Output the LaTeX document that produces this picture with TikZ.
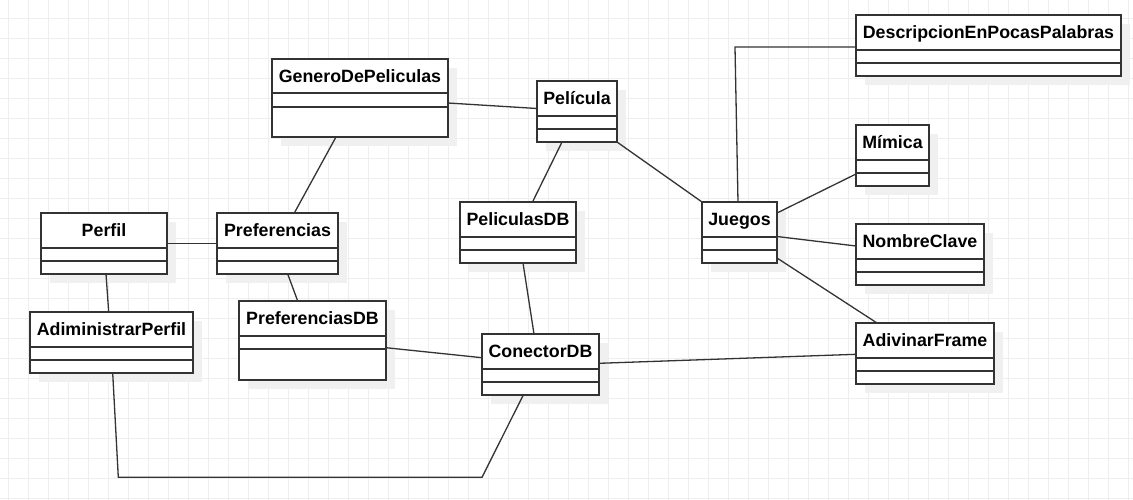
\documentclass[tikz,border=0pt]{standalone}
\usepackage{fontspec}
\setmainfont{Liberation Sans}
\usetikzlibrary{calc,shadows}
\definecolor{edge}{HTML}{333333}
\definecolor{gridgray}{HTML}{EEEEEE}
\tikzset{
  cls/.style={draw=edge, line width=1.3pt, fill=white, anchor=north west, inner sep=0pt, outer sep=0pt,
    drop shadow={shadow xshift=9pt, shadow yshift=-9pt, fill=black!6, opacity=1}},
  ttl/.style={anchor=base, inner sep=0pt, font=\bfseries\fontsize{17.8}{20}\selectfont},
  sep/.style={draw=edge, line width=1.3pt},
  assoc/.style={draw=edge, line width=1.3pt},
  gridln/.style={draw=gridgray, line width=1pt}
}
\begin{document}
\begin{tikzpicture}[x=1pt,y=-1pt]
\useasboundingbox (0,0) rectangle (1133,499);
\begin{scope}
\clip (0,0) rectangle (1133,499);
\draw[gridln, step=20pt, xshift=8.3pt, yshift=-18.3pt] (-20pt,-500pt) grid (1140pt,20pt);
\end{scope}
% classes
\node[cls, minimum width=176pt, minimum height=78pt] (genero) at (272,59) {};
\node[ttl] (genero-t) at ($(genero.north)+(0,23)$) {GeneroDePeliculas};
\draw[sep] ($(genero.north west)+(0,34)$) -- ($(genero.north east)+(0,34)$);
\draw[sep] ($(genero.north west)+(0,48)$) -- ($(genero.north east)+(0,48)$);
\node[cls, minimum width=80pt, minimum height=61pt] (pelicula) at (537,81) {};
\node[ttl] (pelicula-t) at ($(pelicula.north)+(0,23)$) {Película};
\draw[sep] ($(pelicula.north west)+(0,35)$) -- ($(pelicula.north east)+(0,35)$);
\draw[sep] ($(pelicula.north west)+(0,48)$) -- ($(pelicula.north east)+(0,48)$);
\node[cls, minimum width=75pt, minimum height=61pt] (juegos) at (702,202) {};
\node[ttl] (juegos-t) at ($(juegos.north)+(0,23)$) {Juegos};
\draw[sep] ($(juegos.north west)+(0,35)$) -- ($(juegos.north east)+(0,35)$);
\draw[sep] ($(juegos.north west)+(0,48)$) -- ($(juegos.north east)+(0,48)$);
\node[cls, minimum width=116pt, minimum height=61pt] (pelisdb) at (460,202) {};
\node[ttl] (pelisdb-t) at ($(pelisdb.north)+(0,23)$) {PeliculasDB};
\draw[sep] ($(pelisdb.north west)+(0,35)$) -- ($(pelisdb.north east)+(0,35)$);
\draw[sep] ($(pelisdb.north west)+(0,48)$) -- ($(pelisdb.north east)+(0,48)$);
\node[cls, minimum width=265pt, minimum height=61pt] (desc) at (856,15) {};
\node[ttl] (desc-t) at ($(desc.north)+(0,23)$) {DescripcionEnPocasPalabras};
\draw[sep] ($(desc.north west)+(0,35)$) -- ($(desc.north east)+(0,35)$);
\draw[sep] ($(desc.north west)+(0,48)$) -- ($(desc.north east)+(0,48)$);
\node[cls, minimum width=73pt, minimum height=61pt] (mimica) at (856,125) {};
\node[ttl] (mimica-t) at ($(mimica.north)+(0,23)$) {Mímica};
\draw[sep] ($(mimica.north west)+(0,35)$) -- ($(mimica.north east)+(0,35)$);
\draw[sep] ($(mimica.north west)+(0,48)$) -- ($(mimica.north east)+(0,48)$);
\node[cls, minimum width=128pt, minimum height=61pt] (nombre) at (856,224) {};
\node[ttl] (nombre-t) at ($(nombre.north)+(0,23)$) {NombreClave};
\draw[sep] ($(nombre.north west)+(0,35)$) -- ($(nombre.north east)+(0,35)$);
\draw[sep] ($(nombre.north west)+(0,48)$) -- ($(nombre.north east)+(0,48)$);
\node[cls, minimum width=138pt, minimum height=61pt] (adivinar) at (856,323) {};
\node[ttl] (adivinar-t) at ($(adivinar.north)+(0,23)$) {AdivinarFrame};
\draw[sep] ($(adivinar.north west)+(0,35)$) -- ($(adivinar.north east)+(0,35)$);
\draw[sep] ($(adivinar.north west)+(0,48)$) -- ($(adivinar.north east)+(0,48)$);
\node[cls, minimum width=117pt, minimum height=61pt] (conector) at (482,334) {};
\node[ttl] (conector-t) at ($(conector.north)+(0,23)$) {ConectorDB};
\draw[sep] ($(conector.north west)+(0,35)$) -- ($(conector.north east)+(0,35)$);
\draw[sep] ($(conector.north west)+(0,48)$) -- ($(conector.north east)+(0,48)$);
\node[cls, minimum width=126pt, minimum height=61pt] (perfil) at (41,213) {};
\node[ttl] (perfil-t) at ($(perfil.north)+(0,23)$) {Perfil};
\draw[sep] ($(perfil.north west)+(0,35)$) -- ($(perfil.north east)+(0,35)$);
\draw[sep] ($(perfil.north west)+(0,48)$) -- ($(perfil.north east)+(0,48)$);
\node[cls, minimum width=121pt, minimum height=61pt] (prefs) at (217,213) {};
\node[ttl] (prefs-t) at ($(prefs.north)+(0,23)$) {Preferencias};
\draw[sep] ($(prefs.north west)+(0,35)$) -- ($(prefs.north east)+(0,35)$);
\draw[sep] ($(prefs.north west)+(0,48)$) -- ($(prefs.north east)+(0,48)$);
\node[cls, minimum width=163pt, minimum height=61pt] (admin) at (30,312) {};
\node[ttl] (admin-t) at ($(admin.north)+(0,23)$) {AdiministrarPerfil};
\draw[sep] ($(admin.north west)+(0,35)$) -- ($(admin.north east)+(0,35)$);
\draw[sep] ($(admin.north west)+(0,48)$) -- ($(admin.north east)+(0,48)$);
\node[cls, minimum width=147pt, minimum height=79pt] (prefsdb) at (239,301) {};
\node[ttl] (prefsdb-t) at ($(prefsdb.north)+(0,23)$) {PreferenciasDB};
\draw[sep] ($(prefsdb.north west)+(0,35)$) -- ($(prefsdb.north east)+(0,35)$);
\draw[sep] ($(prefsdb.north west)+(0,48)$) -- ($(prefsdb.north east)+(0,48)$);
% associations
\draw[assoc] ($(genero.north east)+(0,44)$) -- ($(pelicula.north west)+(0,27.5)$);
\draw[assoc] ($(pelicula.south west)+(25,0)$) -- ($(pelisdb.north west)+(72.5,0)$);
\draw[assoc] (pelicula.south east) -- (juegos.north west);
\draw[assoc] ($(juegos.north west)+(36,0)$) -- ($(desc.north west)+(-121,32)$) -- ($(desc.north west)+(0,32)$);
\draw[assoc] ($(juegos.north east)+(0,11)$) -- ($(mimica.north west)+(0,49)$);
\draw[assoc] ($(juegos.north east)+(0,34.5)$) -- ($(nombre.north west)+(0,22)$);
\draw[assoc] ($(juegos.north east)+(0,56)$) -- ($(adivinar.north west)+(21,0)$);
\draw[assoc] ($(conector.north east)+(0,29.3)$) -- ($(adivinar.north west)+(0,31.3)$);
\draw[assoc] ($(prefsdb.north east)+(0,46.7)$) -- ($(conector.north west)+(0,23.7)$);
\draw[assoc] ($(pelisdb.south west)+(63,0)$) -- ($(conector.north west)+(52,0)$);
\draw[assoc] ($(conector.south west)+(41.3,0)$) -- ($(conector.south west)+(0,82.3)$) -- ($(admin.south west)+(88.3,104.3)$) -- ($(admin.south west)+(82.7,0)$);
\draw[assoc] ($(perfil.south west)+(65,0)$) -- ($(admin.north west)+(78.7,0)$);
\draw[assoc] ($(perfil.north east)+(0,30.3)$) -- ($(prefs.north west)+(0,30.3)$);
\draw[assoc] ($(genero.south west)+(64,0)$) -- ($(prefs.north west)+(77.3,0)$);
\draw[assoc] ($(prefs.south west)+(70.7,0)$) -- ($(prefsdb.north west)+(58.7,0)$);
\end{tikzpicture}
\end{document}
